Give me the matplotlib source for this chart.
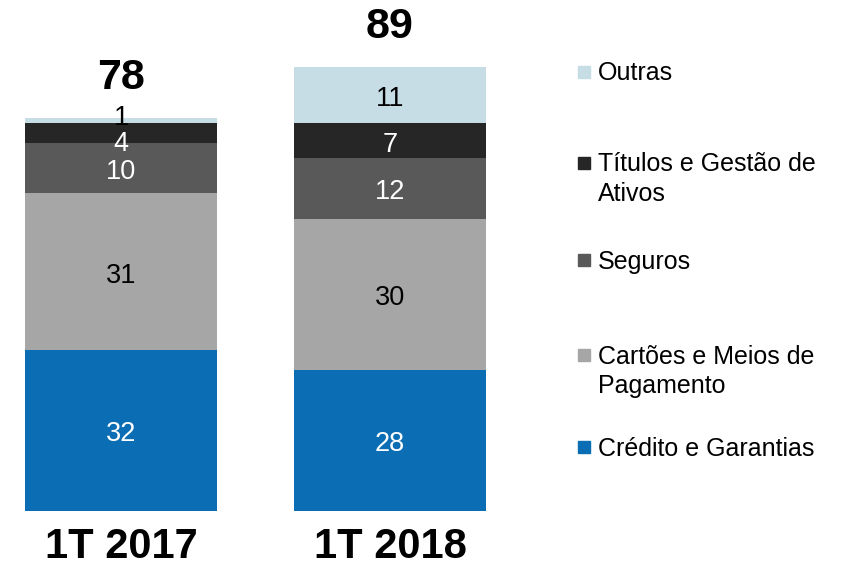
import matplotlib
matplotlib.use("Agg")
import matplotlib.pyplot as plt
from matplotlib.patches import Rectangle

plt.rcParams['font.family'] = ['Liberation Sans', 'DejaVu Sans']

# data
periods = ['1T 2017', '1T 2018']
totals = [78, 89]
categories = ['Crédito e Garantias', 'Cartões e Meios de Pagamento', 'Seguros',
              'Títulos e Gestão de Ativos', 'Outras']
credito = [32, 28]
cartoes = [31, 30]
seguros = [10, 12]
titulos = [4, 7]
outras = [1, 11]
series = [credito, cartoes, seguros, titulos, outras]

colors = ['#0B6DB4', '#A6A6A6', '#595959', '#262626', '#C6DDE6']
text_colors = ['white', 'black', 'white', 'white', 'black']
# small vertical nudges (px) for labels of thin segments in the first bar
nudges = {(3, 0): -7, (4, 0): 6}

W, H = 843, 566
fig = plt.figure(figsize=(W / 100, H / 100), dpi=100)
ax = fig.add_axes([0, 55 / H, 511 / W, 504 / H])
ax.set_xlim(-0.45, 1.45)
ax.set_ylim(0, 100)
ax.axis('off')

x = [0, 1]
bottoms = [0, 0]
for i, vals in enumerate(series):
    ax.bar(x, vals, width=0.714, bottom=bottoms, color=colors[i], linewidth=0)
    for j, v in enumerate(vals):
        yc = bottoms[j] + v / 2
        dy = nudges.get((i, j), 0) - 4
        ax.annotate(str(v), (x[j], yc), xytext=(0, dy * 0.72),
                    textcoords='offset points', ha='center', va='center',
                    fontsize=19.5, color=text_colors[i])
    bottoms = [b + v for b, v in zip(bottoms, vals)]

# totals above bars
for j, t in enumerate(totals):
    ax.annotate(str(t), (x[j], bottoms[j]), xytext=(0, 29), textcoords='offset points',
                ha='center', va='center', fontsize=31, fontweight='bold')

# category labels
for j, p in enumerate(periods):
    ax.annotate(p, (x[j], 0), xytext=(0, -26), textcoords='offset points',
                ha='center', va='center', fontsize=30, fontweight='bold')

# legend, drawn manually
legend_rows = [
    (['Outras'], 72, 4),
    (['Títulos e Gestão de', 'Ativos'], 163, 3),
    (['Seguros'], 260, 2),
    (['Cartões e Meios de', 'Pagamento'], 355, 1),
    (['Crédito e Garantias'], 447, 0),
]
for lines, yc, ci in legend_rows:
    fig.patches.append(Rectangle((578 / W, 1 - (yc + 6) / H), 12 / W, 12 / H,
                                 transform=fig.transFigure, color=colors[ci]))
    for k, line in enumerate(lines):
        fig.text(598 / W, 1 - (yc + 8.5 + 29 * k) / H, line, ha='left', va='baseline',
                 fontsize=18)

fig.savefig('out.png', dpi=100)
